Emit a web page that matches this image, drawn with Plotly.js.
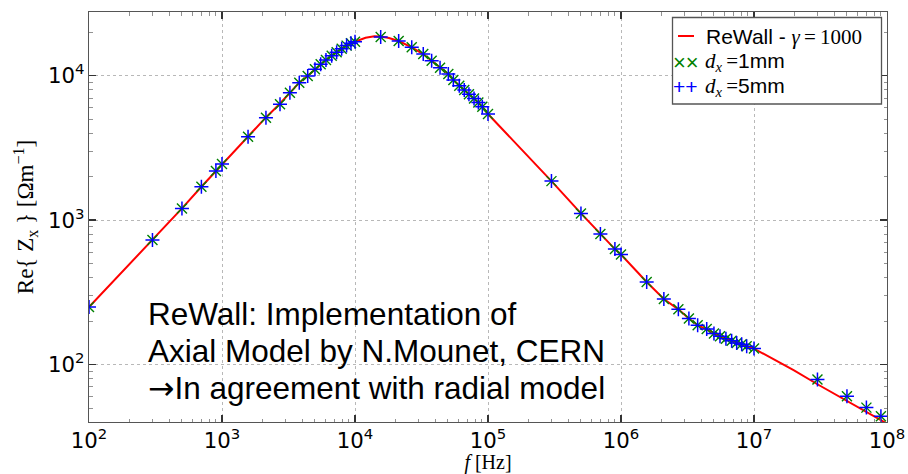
<!DOCTYPE html>
<html>
<head>
<meta charset="utf-8">
<script src="https://cdn.plot.ly/plotly-3.0.1.min.js"></script>
<style>html,body{margin:0;padding:0;background:#fff;}#chart{width:908px;height:474px;}</style>
</head>
<body>
<div id="chart"></div>
<script>
// ReWall model curve (frequency in Hz, Re{Zx} in Ohm/m)
var lineFreq = [100, 300, 500, 700, 900, 1000, 1560, 2130, 2700, 3250, 3810, 4400, 5000, 5500, 6050, 6650, 7250, 7900, 8600, 9300, 10000,
  12000, 14000, 15600, 18000, 21300, 26700, 32600, 37700, 43600, 50300, 54900, 60800, 66300, 71900, 78500, 84600, 90600, 100000,
  300000, 500000, 700000, 900000, 1000000, 1560000, 2100000, 2700000, 3240000, 3770000, 4410000, 5000000, 5550000, 6150000,
  6790000, 7410000, 8080000, 8810000, 10000000, 20000000, 30000000, 50000000, 70000000, 100000000];
var lineZ = [250, 727, 1205, 1702, 2188, 2443, 3777, 5120, 6340, 7630, 8950, 9960, 11080, 12000, 12850, 13760, 14530, 15390, 16150, 16780, 17200,
  18300, 18750, 18650, 18250, 17380, 15710, 14120, 12690, 11360, 10270, 9340, 8530, 7970, 7440, 6940, 6510, 6100, 5430,
  1862, 1112, 800, 630, 578, 373, 284, 241, 208, 187, 175, 164, 157, 151,
  146, 141, 137, 134, 129, 91, 73, 56, 46.5, 39];

// Simulated points, dx = 1 mm and dx = 5 mm
var simFreq = [100, 300, 500, 700, 900, 1000,
  1570, 2140, 2730, 3240, 3810, 4410, 5000, 5520, 6050, 6680, 7280, 7940, 8650, 9330, 10000,
  15600, 21300, 26700, 32600, 37700, 43600, 50300, 54900, 60800, 66300, 71900, 78500, 84600, 90600, 100000,
  300000, 500000, 700000, 900000, 1000000,
  1560000, 2100000, 2700000, 3240000, 3770000, 4410000, 5000000, 5550000, 6150000, 6790000, 7410000, 8080000, 8810000, 10000000,
  30000000, 50000000, 70000000, 90000000];
var z1mm = [250, 727, 1205, 1702, 2188, 2443,
  3777, 5120, 6340, 7630, 8950, 9960, 11080, 12000, 12850, 13760, 14530, 15390, 16150, 16780, 17200,
  18550, 17380, 15710, 14120, 12690, 11360, 10270, 9340, 8530, 7970, 7440, 6940, 6510, 6100, 5430,
  1862, 1112, 800, 630, 578,
  373, 284, 241, 208, 187, 176, 164, 157, 151, 146, 141, 138, 134, 129,
  78.7, 60.3, 50.3, 43.9];
var z5mm = [250, 727, 1205, 1702, 2188, 2443,
  3777, 5120, 6340, 7630, 8950, 9960, 11080, 12000, 12850, 13760, 14530, 15390, 16150, 16780, 17200,
  18550, 17380, 15710, 14120, 12690, 11360, 10270, 9340, 8530, 7970, 7440, 6940, 6510, 6100, 5430,
  1862, 1112, 800, 630, 578,
  373, 284, 241, 208, 187, 176, 164, 157, 151, 146, 141, 138, 134, 129,
  78.7, 60.3, 50.3, 43.9];

var legendLabels = ['ReWall - ', '1000', '1mm', '5mm'];
var noteLines = ['ReWall: Implementation of', 'Axial Model by N.Mounet, CERN', 'In agreement with radial model'];

var RED = '#ff0000', GREEN = '#008000', BLUE = '#0000ff';
var SERIF = 'Liberation Serif, DejaVu Serif, serif';
var SANS = 'Liberation Sans, Arial, sans-serif';

var traces = [
  {x: lineFreq, y: lineZ, type: 'scatter', mode: 'lines', line: {color: RED, width: 2}, showlegend: false, hoverinfo: 'skip'},
  {x: simFreq, y: z1mm, type: 'scatter', mode: 'markers',
   marker: {symbol: 'x-thin', size: 10, color: GREEN, line: {color: GREEN, width: 1.4}}, showlegend: false},
  {x: simFreq, y: z5mm, type: 'scatter', mode: 'markers',
   marker: {symbol: 'cross-thin', size: 10, color: BLUE, line: {color: BLUE, width: 1.5}}, showlegend: false}
];

var axisCommon = {
  type: 'log', showline: true, linecolor: '#555', linewidth: 1.2, mirror: 'ticks',
  ticks: 'inside', ticklen: 7, tickwidth: 1.3, tickcolor: '#333',
  showgrid: true, gridcolor: '#b8b8b8', gridwidth: 1, griddash: 'dot',
  dtick: 1, exponentformat: 'power', showexponent: 'all',
  minor: {ticks: 'inside', ticklen: 3.5, tickwidth: 0.8, tickcolor: '#777', dtick: 'D1', showgrid: false},
  zeroline: false, tickfont: {family: 'DejaVu Sans, sans-serif', size: 17, color: '#000'}
};

var xaxis = Object.assign({}, axisCommon, {
  range: [2, 8],
  title: {text: '<i>f</i> [Hz]', font: {family: SERIF, size: 20, color: '#000'}, standoff: 6}
});
var yaxis = Object.assign({}, axisCommon, {
  range: [1.602, 4.441],
  title: {text: 'Re{ Z<sub>x</sub> } [\u03A9m<sup>\u22121</sup>]', font: {family: SERIF, size: 23, color: '#000'}, standoff: 7}
});

var X0 = 89, X1 = 887, Y0 = 12, Y1 = 422;
function px(x) { return (x - X0) / (X1 - X0); }
function py(y) { return 1 - (y - Y0) / (Y1 - Y0); }

var annotations = [];
var noteY = [314, 351, 388];
noteLines.forEach(function (t, i) {
  var txt = (i === 2) ? '<span style="font-family:DejaVu Sans">\u2192</span>' + t : t;
  annotations.push({xref: 'paper', yref: 'paper', x: px(146), y: py(noteY[i]), xanchor: 'left', yanchor: 'middle',
    text: txt, showarrow: false, align: 'left', font: {family: SANS, size: 31.5, color: '#000'}});
});
// legend rows
var TS = '\u2009';
annotations.push({xref: 'paper', yref: 'paper', x: px(704), y: py(37), xanchor: 'left', yanchor: 'middle', showarrow: false,
  text: legendLabels[0] + '<span style="font-family:' + SERIF + '"><i>\u03B3</i>' + TS + '=' + TS + legendLabels[1] + '</span>',
  font: {family: SANS, size: 21, color: '#000'}});
annotations.push({xref: 'paper', yref: 'paper', x: px(671), y: py(62), xanchor: 'left', yanchor: 'middle', showarrow: false,
  text: '\u00D7\u00D7', font: {family: SANS, size: 22, color: GREEN}});
annotations.push({xref: 'paper', yref: 'paper', x: px(703), y: py(62), xanchor: 'left', yanchor: 'middle', showarrow: false,
  text: '<span style="font-family:' + SERIF + '"><i>d</i><sub><i>x</i></sub>' + TS + '=</span>' + legendLabels[2],
  font: {family: SANS, size: 21, color: '#000'}});
annotations.push({xref: 'paper', yref: 'paper', x: px(671), y: py(87), xanchor: 'left', yanchor: 'middle', showarrow: false,
  text: '++', font: {family: SANS, size: 21, color: BLUE}});
annotations.push({xref: 'paper', yref: 'paper', x: px(703), y: py(87), xanchor: 'left', yanchor: 'middle', showarrow: false,
  text: '<span style="font-family:' + SERIF + '"><i>d</i><sub><i>x</i></sub>' + TS + '=</span>' + legendLabels[3],
  font: {family: SANS, size: 21, color: '#000'}});

var shapes = [
  {type: 'rect', xref: 'paper', yref: 'paper', x0: px(672.5), x1: px(881.5), y0: py(104), y1: py(17.5),
   fillcolor: '#fff', line: {color: '#555', width: 1.3}, layer: 'above'},
  {type: 'line', xref: 'paper', yref: 'paper', x0: px(678), x1: px(694), y0: py(36), y1: py(36),
   line: {color: RED, width: 2}, layer: 'above'}
];

var layout = {
  width: 908, height: 474,
  margin: {l: X0, r: 908 - X1, t: Y0, b: 474 - Y1, pad: 0},
  paper_bgcolor: '#fff', plot_bgcolor: '#fff',
  xaxis: xaxis, yaxis: yaxis,
  showlegend: false,
  annotations: annotations, shapes: shapes,
  font: {family: SANS, color: '#000'}
};

Plotly.newPlot('chart', traces, layout, {staticPlot: true, displayModeBar: false});
</script>
</body>
</html>
